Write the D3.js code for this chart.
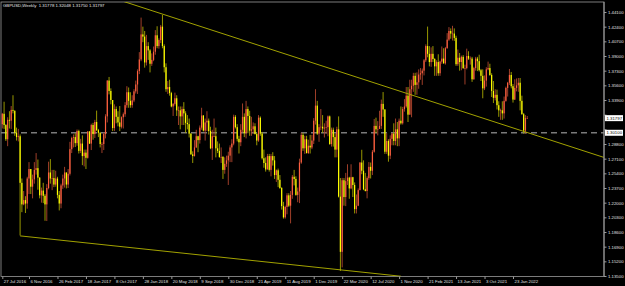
<!DOCTYPE html>
<html>
<head>
<meta charset="utf-8">
<script src="https://cdn.jsdelivr.net/npm/d3@7"></script>
<style>
  body { margin: 0; background: #000; }
  svg { display: block; }
  text { font-family: "Liberation Sans", Arial, sans-serif; }
</style>
</head>
<body>
<div id="chart"></div>
<script>
// weekly GBPUSD candles, [open, high, low, close], first bar = week of 24 Jul 2016
var y2016 = [
  [1.3110,1.3240,1.3060,1.3230],[1.3230,1.3370,1.3055,1.3100],[1.3100,1.3110,1.2915,1.2935],[1.2935,1.3190,1.2855,1.3160],
  [1.3160,1.3260,1.3060,1.3150],[1.3150,1.3320,1.3055,1.3275],[1.3275,1.3445,1.3235,1.3265],[1.3265,1.3270,1.2975,1.3010],
  [1.3010,1.3070,1.2920,1.2960],[1.2960,1.3055,1.2910,1.2970],[1.2970,1.2990,1.1820,1.2430],[1.2430,1.2480,1.2090,1.2180],
  [1.2180,1.2335,1.2170,1.2230],[1.2230,1.2275,1.2080,1.2190],[1.2190,1.2500,1.2130,1.2480],[1.2480,1.2670,1.2300,1.2590],
  [1.2590,1.2590,1.2300,1.2385],[1.2385,1.2525,1.2250,1.2470],[1.2470,1.2670,1.2420,1.2580],[1.2580,1.2775,1.2525,1.2600],
  [1.2600,1.2700,1.2350,1.2490],[1.2490,1.2495,1.2250,1.2285],[1.2285,1.2375,1.2200,1.2340]
];
var y2017 = [
  [1.2340,1.2430,1.2195,1.2280],[1.2280,1.2300,1.1990,1.2180],[1.2180,1.2415,1.1987,1.2370],[1.2370,1.2675,1.2355,1.2550],
  [1.2550,1.2705,1.2420,1.2480],[1.2480,1.2580,1.2345,1.2485],[1.2485,1.2580,1.2380,1.2410],[1.2410,1.2570,1.2385,1.2480],
  [1.2480,1.2500,1.2250,1.2290],[1.2290,1.2335,1.2110,1.2190],[1.2190,1.2420,1.2135,1.2400],[1.2400,1.2525,1.2360,1.2480],
  [1.2480,1.2615,1.2375,1.2550],[1.2550,1.2550,1.2365,1.2410],[1.2410,1.2590,1.2370,1.2535],[1.2535,1.2905,1.2515,1.2820],
  [1.2820,1.2965,1.2775,1.2950],[1.2950,1.2990,1.2840,1.2960],[1.2960,1.3005,1.2845,1.2890],[1.2890,1.3048,1.2860,1.3030],
  [1.3030,1.3045,1.2770,1.2800],[1.2800,1.2940,1.2775,1.2885],[1.2885,1.2980,1.2635,1.2740],[1.2740,1.2815,1.2620,1.2780],
  [1.2780,1.2815,1.2590,1.2720],[1.2720,1.3030,1.2710,1.3025],[1.3025,1.3030,1.2880,1.2885],[1.2885,1.3115,1.2810,1.3100],
  [1.3100,1.3125,1.2930,1.2995],[1.2995,1.3160,1.2950,1.3135],[1.3135,1.3267,1.3030,1.3040],[1.3040,1.3055,1.2960,1.3010],
  [1.3010,1.3020,1.2840,1.2880],[1.2880,1.2900,1.2775,1.2880],[1.2880,1.3015,1.2810,1.2995],[1.2995,1.3225,1.2945,1.3200],
  [1.3200,1.3620,1.3130,1.3615],[1.3615,1.3657,1.3455,1.3495],[1.3495,1.3525,1.3340,1.3390],[1.3390,1.3390,1.3030,1.3065],
  [1.3065,1.3340,1.3030,1.3285],[1.3285,1.3315,1.3120,1.3195],[1.3195,1.3260,1.3085,1.3130],[1.3130,1.3320,1.3030,1.3080],
  [1.3080,1.3200,1.3060,1.3190],[1.3190,1.3245,1.3060,1.3225],[1.3225,1.3365,1.3195,1.3330],[1.3330,1.3550,1.3300,1.3480],
  [1.3480,1.3535,1.3300,1.3380],[1.3380,1.3480,1.3300,1.3330],[1.3330,1.3445,1.3300,1.3385],[1.3385,1.3515,1.3365,1.3490]
];
var y2018 = [
  [1.3490,1.3615,1.3465,1.3570],[1.3570,1.3745,1.3460,1.3725],[1.3725,1.3945,1.3690,1.3860],[1.3860,1.4345,1.3840,1.4150],
  [1.4150,1.4240,1.4060,1.4125],[1.4125,1.4190,1.3765,1.3825],[1.3825,1.4145,1.3790,1.4015],[1.4015,1.4060,1.3855,1.3965],
  [1.3965,1.3980,1.3710,1.3810],[1.3810,1.3930,1.3785,1.3855],[1.3855,1.4010,1.3840,1.3950],[1.3950,1.4200,1.3915,1.4140],
  [1.4140,1.4245,1.3990,1.4015],[1.4015,1.4105,1.3985,1.4085],[1.4085,1.4260,1.4050,1.4240],[1.4240,1.4377,1.3990,1.4015],
  [1.4015,1.4035,1.3710,1.3770],[1.3770,1.3815,1.3485,1.3515],[1.3515,1.3610,1.3460,1.3540],[1.3540,1.3625,1.3440,1.3470],
  [1.3470,1.3485,1.3305,1.3315],[1.3315,1.3355,1.3205,1.3345],[1.3345,1.3475,1.3325,1.3410],[1.3410,1.3445,1.3205,1.3270],
  [1.3270,1.3315,1.3100,1.3270],[1.3270,1.3315,1.3050,1.3200],[1.3200,1.3315,1.3100,1.3285],[1.3285,1.3365,1.3100,1.3235],
  [1.3235,1.3260,1.3010,1.3125],[1.3125,1.3215,1.3050,1.3110],[1.3110,1.3175,1.2955,1.3000],[1.3000,1.3005,1.2755,1.2760],
  [1.2760,1.2795,1.2660,1.2740],[1.2740,1.2925,1.2735,1.2840],[1.2840,1.3045,1.2835,1.2970],[1.2970,1.2975,1.2785,1.2925],
  [1.2925,1.3095,1.2885,1.3070],[1.3070,1.3300,1.3045,1.3210],[1.3210,1.3215,1.3025,1.3035],[1.3035,1.3175,1.2920,1.3130],
  [1.3130,1.3260,1.3030,1.3150],[1.3150,1.3175,1.2990,1.3030],[1.3030,1.3080,1.2820,1.2830],[1.2830,1.3045,1.2695,1.2970],
  [1.2970,1.3175,1.2960,1.2970],[1.2970,1.3070,1.2725,1.2830],[1.2830,1.2910,1.2775,1.2800],[1.2800,1.2885,1.2720,1.2730],
  [1.2730,1.2840,1.2660,1.2730],[1.2730,1.2740,1.2475,1.2580],[1.2580,1.2725,1.2535,1.2650],[1.2650,1.2745,1.2615,1.2690]
];
var y2019 = [
  [1.2690,1.2790,1.2405,1.2745],[1.2745,1.2865,1.2670,1.2840],[1.2840,1.2935,1.2670,1.2885],[1.2885,1.3220,1.2865,1.3195],
  [1.3195,1.3215,1.3060,1.3075],[1.3075,1.3110,1.2910,1.2940],[1.2940,1.2975,1.2770,1.2900],[1.2900,1.3110,1.2855,1.3045],
  [1.3045,1.3350,1.3015,1.3195],[1.3195,1.3235,1.2960,1.3005],[1.3005,1.3380,1.2945,1.3285],[1.3285,1.3315,1.3005,1.3205],
  [1.3205,1.3265,1.2975,1.3035],[1.3035,1.3195,1.2975,1.3050],[1.3050,1.3130,1.3000,1.3085],[1.3085,1.3120,1.2990,1.2995],
  [1.2995,1.3010,1.2865,1.2920],[1.2920,1.3215,1.2905,1.3185],[1.3185,1.3200,1.2975,1.3000],[1.3000,1.3020,1.2700,1.2715],
  [1.2715,1.2815,1.2605,1.2660],[1.2660,1.2725,1.2560,1.2585],[1.2585,1.2765,1.2585,1.2740],[1.2740,1.2765,1.2560,1.2580],
  [1.2580,1.2765,1.2505,1.2740],[1.2740,1.2785,1.2630,1.2690],[1.2690,1.2740,1.2475,1.2520],[1.2520,1.2585,1.2440,1.2575],
  [1.2575,1.2595,1.2380,1.2465],[1.2465,1.2520,1.2360,1.2370],[1.2370,1.2380,1.2120,1.2160],[1.2160,1.2210,1.2015,1.2030],
  [1.2030,1.2165,1.2015,1.2150],[1.2150,1.2310,1.2065,1.2285],[1.2285,1.2310,1.2150,1.2165],[1.2165,1.2335,1.1960,1.2290],
  [1.2290,1.2520,1.2245,1.2500],[1.2500,1.2580,1.2400,1.2475],[1.2475,1.2505,1.2280,1.2290],[1.2290,1.2375,1.2205,1.2330],
  [1.2330,1.2710,1.2195,1.2665],[1.2665,1.3013,1.2650,1.2985],[1.2985,1.3010,1.2800,1.2830],[1.2830,1.2975,1.2765,1.2935],
  [1.2935,1.2975,1.2770,1.2775],[1.2775,1.2930,1.2765,1.2860],[1.2860,1.2985,1.2770,1.2840],[1.2840,1.2985,1.2820,1.2920],
  [1.2920,1.3180,1.2880,1.3150],[1.3150,1.3515,1.3105,1.3325],[1.3325,1.3380,1.2985,1.3000],[1.3000,1.3110,1.2905,1.3075]
];
var y2020 = [
  [1.3075,1.3285,1.3040,1.3080],[1.3080,1.3215,1.3010,1.3060],[1.3060,1.3120,1.2955,1.3070],[1.3070,1.3150,1.3000,1.3075],
  [1.3075,1.3210,1.2970,1.3200],[1.3200,1.3210,1.2870,1.2880],[1.2880,1.3070,1.2850,1.3045],[1.3045,1.3070,1.2850,1.2960],
  [1.2960,1.3000,1.2725,1.2815],[1.2815,1.3080,1.2725,1.3050],[1.3050,1.3200,1.2260,1.2270],[1.2270,1.2485,1.1409,1.1630],
  [1.1630,1.2487,1.1450,1.2460],[1.2460,1.2485,1.2165,1.2265],[1.2265,1.2545,1.2160,1.2450],[1.2450,1.2645,1.2405,1.2490],
  [1.2490,1.2500,1.2245,1.2365],[1.2365,1.2645,1.2355,1.2495],[1.2495,1.2500,1.2265,1.2405],[1.2405,1.2435,1.2075,1.2125],
  [1.2125,1.2295,1.2075,1.2165],[1.2165,1.2365,1.2160,1.2345],[1.2345,1.2670,1.2345,1.2665],[1.2665,1.2813,1.2530,1.2570],
  [1.2570,1.2690,1.2345,1.2355],[1.2355,1.2545,1.2330,1.2335],[1.2335,1.2505,1.2250,1.2485],[1.2485,1.2670,1.2465,1.2615],
  [1.2615,1.2665,1.2480,1.2570],[1.2570,1.2810,1.2520,1.2790],[1.2790,1.3170,1.2780,1.3090],[1.3090,1.3185,1.3005,1.3050],
  [1.3050,1.3145,1.2980,1.3055],[1.3055,1.3265,1.3055,1.3090],[1.3090,1.3395,1.3055,1.3345],[1.3345,1.3482,1.3195,1.3280],
  [1.3280,1.3285,1.2765,1.2790],[1.2790,1.3005,1.2765,1.2915],[1.2915,1.2935,1.2675,1.2745],[1.2745,1.2980,1.2705,1.2940],
  [1.2940,1.3010,1.2865,1.3000],[1.3000,1.3120,1.2865,1.2915],[1.2915,1.3175,1.2865,1.3050],[1.3050,1.3135,1.2855,1.2945],
  [1.2945,1.3175,1.2855,1.3150],[1.3150,1.3315,1.3105,1.3120],[1.3120,1.3310,1.3105,1.3285],[1.3285,1.3400,1.3255,1.3315],
  [1.3315,1.3540,1.3300,1.3440],[1.3440,1.3540,1.3135,1.3220],[1.3220,1.3625,1.3220,1.3515],[1.3515,1.3625,1.3190,1.3555],
  [1.3555,1.3705,1.3485,1.3670]
];
var y2021 = [
  [1.3670,1.3705,1.3450,1.3565],[1.3565,1.3710,1.3450,1.3595],[1.3595,1.3745,1.3520,1.3685],[1.3685,1.3760,1.3625,1.3700],
  [1.3700,1.3755,1.3565,1.3730],[1.3730,1.3865,1.3675,1.3850],[1.3850,1.4035,1.3830,1.4015],[1.4015,1.4241,1.3885,1.3925],
  [1.3925,1.4015,1.3780,1.3830],[1.3830,1.4000,1.3775,1.3925],[1.3925,1.4015,1.3830,1.3865],[1.3865,1.3875,1.3670,1.3780],
  [1.3780,1.3850,1.3670,1.3830],[1.3830,1.3920,1.3670,1.3700],[1.3700,1.3845,1.3670,1.3835],[1.3835,1.4010,1.3810,1.3870],
  [1.3870,1.3990,1.3810,1.3815],[1.3815,1.4005,1.3800,1.3990],[1.3990,1.4165,1.3985,1.4090],[1.4090,1.4235,1.4075,1.4190],
  [1.4190,1.4220,1.4100,1.4160],[1.4160,1.4250,1.4080,1.4160],[1.4160,1.4220,1.4075,1.4110],[1.4110,1.4135,1.3785,1.3805],
  [1.3805,1.3975,1.3785,1.3880],[1.3880,1.3935,1.3730,1.3830],[1.3830,1.3905,1.3735,1.3890],[1.3890,1.3910,1.3750,1.3760],
  [1.3760,1.3800,1.3570,1.3760],[1.3760,1.3985,1.3745,1.3900],[1.3900,1.3955,1.3855,1.3870],[1.3870,1.3895,1.3800,1.3870],
  [1.3870,1.3890,1.3600,1.3630],[1.3630,1.3775,1.3625,1.3760],[1.3760,1.3890,1.3730,1.3870],[1.3870,1.3890,1.3725,1.3840],
  [1.3840,1.3915,1.3720,1.3735],[1.3735,1.3750,1.3610,1.3670],[1.3670,1.3745,1.3410,1.3525],[1.3525,1.3675,1.3505,1.3615],
  [1.3615,1.3770,1.3545,1.3745],[1.3745,1.3835,1.3735,1.3760],[1.3760,1.3810,1.3670,1.3680],[1.3680,1.3700,1.3425,1.3495],
  [1.3495,1.3610,1.3355,1.3415],[1.3415,1.3515,1.3385,1.3450],[1.3450,1.3510,1.3280,1.3330],[1.3330,1.3375,1.3195,1.3270],
  [1.3270,1.3290,1.3160,1.3270],[1.3270,1.3375,1.3160,1.3235],[1.3235,1.3430,1.3175,1.3380],[1.3380,1.3545,1.3370,1.3530]
];
var y2022 = [
  [1.3530,1.3600,1.3430,1.3590],[1.3590,1.3750,1.3565,1.3680],[1.3680,1.3715,1.3525,1.3550],[1.3550,1.3575,1.3360,1.3395],
  [1.3395,1.3630,1.3390,1.3530],[1.3530,1.3640,1.3490,1.3560],[1.3560,1.3645,1.3485,1.3590],[1.3590,1.3645,1.3270,1.3380],
  [1.3380,1.3440,1.3220,1.3225],[1.3225,1.3240,1.3000,1.3035],[1.3035,1.3215,1.3000,1.3180],[1.31778,1.32048,1.31750,1.31797]
];

var startWeek = "24 Jul 2016";
var dateLabels = ["27 Jul 2016","6 Nov 2016","26 Feb 2017","18 Jun 2017","8 Oct 2017","28 Jan 2018","20 May 2018",
  "9 Sep 2018","30 Dec 2018","21 Apr 2019","11 Aug 2019","1 Dec 2019","22 Mar 2020","12 Jul 2020","1 Nov 2020",
  "21 Feb 2021","13 Jun 2021","3 Oct 2021","23 Jan 2022"];
var priceTicks = [1.135,1.152,1.169,1.186,1.203,1.220,1.237,1.254,1.271,1.288,1.305,1.322,1.339,1.356,1.373,1.390,1.407,1.424,1.441];

var symbol = "GBPUSD,Weekly";
var levelPrice = 1.3010;
// trend lines: [weekIndex, price]
var upperTrend = [[67, 1.4540], [338, 1.2725]];
var lowerTrend = [[10, 1.1815], [224, 1.1347]];

var W = 625, H = 286;
var L = 1, T = 2, R = 604, B = 276.5;

var bars = [].concat(y2016, y2017, y2018, y2019, y2020, y2021, y2022);
var last = bars[bars.length - 1];

var svg = d3.select("#chart").append("svg").attr("width", W).attr("height", H);
svg.append("rect").attr("width", W).attr("height", H).attr("fill", "#000");

var x = d3.scaleLinear().domain([15, 287]).range([29, 513]);
var y = d3.scaleLinear().domain([1.135, 1.441]).range([276, 12]);

svg.append("clipPath").attr("id", "plot")
  .append("rect").attr("x", L).attr("y", T).attr("width", R - L).attr("height", B - T);

// frame
svg.append("rect").attr("x", L).attr("y", T).attr("width", R - L).attr("height", B - T)
  .attr("fill", "none").attr("stroke", "#9a9a9a").attr("stroke-width", 0.8);

var g = svg.append("g").attr("clip-path", "url(#plot)");

// horizontal level
g.append("line").attr("x1", L).attr("x2", R).attr("y1", y(levelPrice)).attr("y2", y(levelPrice))
  .attr("stroke", "#7a7a7a").attr("stroke-width", 1.6).attr("stroke-dasharray", "6,4");

// candles
var cand = g.selectAll("g.c").data(bars).enter().append("g").attr("class", "c");
cand.append("line")
  .attr("x1", function (d, i) { return x(i); })
  .attr("x2", function (d, i) { return x(i); })
  .attr("y1", function (d) { return y(d[1]); })
  .attr("y2", function (d) { return y(d[2]); })
  .attr("stroke", function (d) { return d[3] >= d[0] ? "#b0452e" : "#a8a800"; })
  .attr("stroke-width", 0.9);
cand.append("rect")
  .attr("x", function (d, i) { return x(i) - 0.6; })
  .attr("width", 1.2)
  .attr("y", function (d) { return y(Math.max(d[0], d[3])); })
  .attr("height", function (d) { return Math.max(0.6, Math.abs(y(d[0]) - y(d[3]))); })
  .attr("fill", function (d) { return d[3] >= d[0] ? "#ff6040" : "#ffff00"; });

// trend lines
[upperTrend, lowerTrend].forEach(function (t) {
  g.append("line")
    .attr("x1", x(t[0][0])).attr("y1", y(t[0][1]))
    .attr("x2", x(t[1][0])).attr("y2", y(t[1][1]))
    .attr("stroke", "#b4b400").attr("stroke-width", 0.9);
});

// price axis (labels hidden under the price tags are left out, as in the terminal)
var tagPrices = [last[3], levelPrice];
var ya = svg.append("g").attr("transform", "translate(" + R + ",0)")
  .call(d3.axisRight(y).tickValues(priceTicks).tickSize(2.5).tickFormat(function (d) {
    var hidden = tagPrices.some(function (p) { return Math.abs(y(p) - y(d)) < 6; });
    return hidden ? "" : d3.format(".5f")(d);
  }));
ya.select(".domain").attr("stroke", "#9a9a9a").attr("d", "M0," + T + "V" + B);
ya.selectAll(".tick line").attr("stroke", "#9a9a9a");
ya.selectAll(".tick text").attr("x", 4).attr("fill", "#e0e0e0").attr("font-size", 4.3);

// time axis
var parse = d3.timeParse("%d %b %Y");
var t0 = parse(startWeek);
var labelBars = dateLabels.map(function (s) { return Math.round((parse(s) - t0) / (7 * 864e5)); });
var xa = svg.append("g").attr("transform", "translate(0," + B + ")")
  .call(d3.axisBottom(x).tickValues(labelBars).tickSize(2.5).tickFormat(function (d, i) { return dateLabels[i]; }));
xa.select(".domain").remove();
xa.selectAll(".tick line").attr("stroke", "#9a9a9a");
xa.selectAll(".tick text").attr("text-anchor", "start").attr("x", 1).attr("y", 3.5)
  .attr("fill", "#e0e0e0").attr("font-size", 4.3);

// price labels on the axis
function tag(p, txt) {
  svg.append("rect").attr("x", R + 1).attr("y", y(p) - 3).attr("width", 18).attr("height", 6).attr("fill", "#fff");
  svg.append("text").attr("x", R + 2.5).attr("y", y(p) + 1.6).attr("font-size", 4.3).attr("fill", "#000").text(txt);
}
tag(last[3], d3.format(".5f")(last[3]));
tag(levelPrice, d3.format(".5f")(levelPrice));

// title
svg.append("text").attr("x", 3).attr("y", 6.5).attr("font-size", 4.3).attr("fill", "#e8e8e8")
  .attr("xml:space", "preserve")
  .text(symbol + "  " + last.map(d3.format(".5f")).join(" "));
</script>
</body>
</html>
